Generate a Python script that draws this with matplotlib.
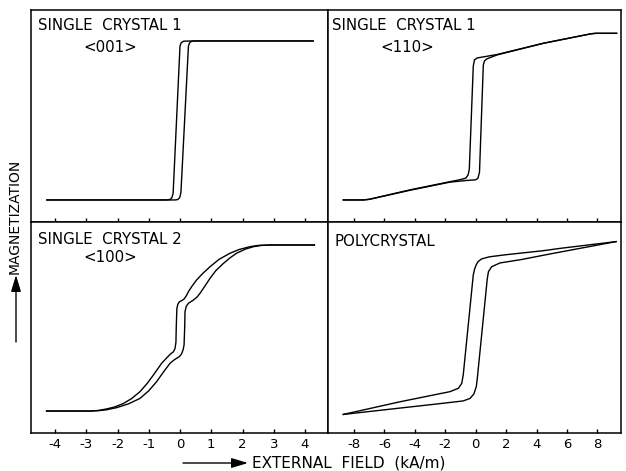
import matplotlib
matplotlib.use("Agg")
import matplotlib.pyplot as plt
from matplotlib.patches import FancyArrowPatch

plt.rcParams['font.family'] = ['DejaVu Sans']
plt.rcParams['axes.unicode_minus'] = False

# ---------------- data (field H, normalized magnetization M) ----------------
# Single crystal 1 <001>  (field in kA/m, scale -4..4)
sc1_001_desc_h = [4.26, 0.45, 0.12, 0.04, 0.0, -0.22, -0.26, -0.32, -0.45, -4.26]
sc1_001_desc_m = [0.854, 0.854, 0.853, 0.846, 0.83, 0.135, 0.115, 0.106, 0.104, 0.104]
sc1_001_asc_h = [-4.26, -0.15, -0.07, -0.01, 0.03, 0.27, 0.31, 0.38, 0.5, 4.26]
sc1_001_asc_m = [0.104, 0.104, 0.106, 0.115, 0.14, 0.83, 0.846, 0.853, 0.854, 0.854]

# Single crystal 1 <110>  (scale -8..8)
sc1_110_desc_h = [9.27, 7.9, 7.6, 4.45, 1.4, 0.6, 0.1, -0.08, -0.16, -0.42, -0.5,
                  -0.65, -1.0, -1.7, -4.3, -7.0, -7.4, -8.71]
sc1_110_desc_m = [0.89, 0.89, 0.888, 0.843, 0.79, 0.78, 0.774, 0.765, 0.735, 0.25,
                  0.222, 0.207, 0.2, 0.19, 0.152, 0.107, 0.104, 0.104]
sc1_110_asc_h = [-8.71, -7.4, -7.0, -4.3, -1.7, -0.6, 0.0, 0.15, 0.25, 0.5, 0.58,
                 0.75, 1.4, 4.45, 7.6, 7.9, 9.27]
sc1_110_asc_m = [0.104, 0.104, 0.107, 0.15, 0.188, 0.196, 0.199, 0.207, 0.235, 0.74,
                 0.76, 0.77, 0.788, 0.843, 0.888, 0.89, 0.89]

# Single crystal 2 <100>  (scale -4..4)
sc2_100_desc_h = [4.3, 2.9, 2.5, 2.24, 1.9, 1.6, 1.25, 0.96, 0.72, 0.53, 0.38, 0.27,
                  0.2, 0.13, 0.05, -0.02, -0.07, -0.1, -0.12, -0.13, -0.16, -0.21,
                  -0.3, -0.4, -0.59, -0.85, -1.05, -1.28, -1.55, -1.81, -2.1, -2.35,
                  -2.6, -2.88, -4.27]
sc2_100_desc_m = [0.891, 0.891, 0.889, 0.883, 0.87, 0.852, 0.823, 0.788, 0.755,
                  0.725, 0.695, 0.67, 0.65, 0.635, 0.627, 0.622, 0.61, 0.59, 0.5,
                  0.43, 0.4, 0.385, 0.375, 0.36, 0.33, 0.275, 0.235, 0.196, 0.163,
                  0.14, 0.123, 0.114, 0.107, 0.104, 0.104]
sc2_100_asc_h = [-4.27, -2.88, -2.6, -2.35, -2.03, -1.65, -1.28, -1.0, -0.75, -0.5,
                 -0.32, -0.2, -0.11, -0.02, 0.05, 0.1, 0.13, 0.15, 0.16, 0.2, 0.27,
                 0.43, 0.55, 0.64, 0.8, 0.96, 1.15, 1.39, 1.6, 1.81, 2.1, 2.35, 2.6,
                 2.88, 4.3]
sc2_100_asc_m = [0.104, 0.104, 0.106, 0.11, 0.12, 0.138, 0.164, 0.2, 0.243, 0.295,
                 0.33, 0.345, 0.354, 0.362, 0.375, 0.395, 0.417, 0.5, 0.575, 0.6,
                 0.615, 0.63, 0.645, 0.662, 0.697, 0.733, 0.77, 0.804, 0.83, 0.852,
                 0.872, 0.883, 0.889, 0.891, 0.891]

# Polycrystal  (scale -8..8)
poly_desc_h = [9.23, 5.55, 4.45, 2.0, 0.9, 0.39, 0.15, 0.02, -0.08, -0.16, -0.82,
               -0.92, -1.14, -1.69, -4.98, -8.71]
poly_desc_m = [0.907, 0.875, 0.864, 0.845, 0.835, 0.825, 0.812, 0.795, 0.775, 0.749,
               0.275, 0.235, 0.212, 0.196, 0.148, 0.088]
poly_asc_h = [-8.71, -5.0, -2.5, -0.82, -0.37, -0.12, 0.04, 0.1, 0.76, 0.84, 1.05,
              1.6, 3.0, 5.0, 7.0, 9.23]
poly_asc_m = [0.088, 0.118, 0.138, 0.152, 0.164, 0.185, 0.22, 0.255, 0.73, 0.765,
              0.788, 0.806, 0.822, 0.85, 0.877, 0.907]

left_ticks = [-4, -3, -2, -1, 0, 1, 2, 3, 4]
right_ticks = [-8, -6, -4, -2, 0, 2, 4, 6, 8]

titles = {
    "tl": ("SINGLE  CRYSTAL 1", "<001>"),
    "tr": ("SINGLE  CRYSTAL 1", "<110>"),
    "bl": ("SINGLE  CRYSTAL 2", "<100>"),
    "br": ("POLYCRYSTAL", None),
}

xlabel = "EXTERNAL  FIELD  (kA/m)"
ylabel = "MAGNETIZATION"

# ---------------- layout ----------------
W, H = 626, 471
fig = plt.figure(figsize=(W / 100, H / 100), dpi=100)


def px_axes(x0, y0, x1, y1):
    return fig.add_axes([x0 / W, 1 - y1 / H, (x1 - x0) / W, (y1 - y0) / H])


LX0, MX, RX1 = 31, 328, 621
TY0, MY, BY1 = 10, 222, 433

ax_tl = px_axes(LX0, TY0, MX, MY)
ax_tr = px_axes(MX, TY0, RX1, MY)
ax_bl = px_axes(LX0, MY, MX, BY1)
ax_br = px_axes(MX, MY, RX1, BY1)

lw = 1.0
for ax in (ax_tl, ax_tr, ax_bl, ax_br):
    for s in ax.spines.values():
        s.set_linewidth(1.1)
    ax.set_yticks([])
    ax.set_ylim(0, 1)
    ax.tick_params(axis='x', direction='in', length=3.2, width=1.0, pad=3.5,
                   labelsize=9.5, top=False)

ax_tl.plot(sc1_001_desc_h, sc1_001_desc_m, color='black', lw=lw)
ax_tl.plot(sc1_001_asc_h, sc1_001_asc_m, color='black', lw=lw)
ax_tr.plot(sc1_110_desc_h, sc1_110_desc_m, color='black', lw=lw)
ax_tr.plot(sc1_110_asc_h, sc1_110_asc_m, color='black', lw=lw)
ax_bl.plot(sc2_100_desc_h, sc2_100_desc_m, color='black', lw=lw)
ax_bl.plot(sc2_100_asc_h, sc2_100_asc_m, color='black', lw=lw)
ax_br.plot(poly_desc_h, poly_desc_m, color='black', lw=lw)
ax_br.plot(poly_asc_h, poly_asc_m, color='black', lw=lw)

for ax in (ax_tl, ax_bl):
    ax.set_xlim(-4.768, 4.736)
    ax.set_xticks(left_ticks)
for ax in (ax_tr, ax_br):
    ax.set_xlim(-9.717, 9.559)
    ax.set_xticks(right_ticks)

ax_tl.set_xticklabels([])
ax_tr.set_xticklabels([])
ax_bl.set_xticklabels([str(t) for t in left_ticks])
ax_br.set_xticklabels([str(t) for t in right_ticks])


def ftext(x, y, s, **kw):
    fig.text(x / W, 1 - y / H, s, **kw)


tsize = 10.8
# panel titles (pixel positions)
ftext(38, 26, titles["tl"][0], fontsize=tsize, va='center', ha='left')
ftext(110, 47, titles["tl"][1], fontsize=tsize, va='center', ha='center')
ftext(332, 25, titles["tr"][0], fontsize=tsize, va='center', ha='left')
ftext(407, 47, titles["tr"][1], fontsize=tsize, va='center', ha='center')
ftext(38, 240, titles["bl"][0], fontsize=tsize, va='center', ha='left')
ftext(110, 257, titles["bl"][1], fontsize=tsize, va='center', ha='center')
ftext(335, 241, titles["br"][0], fontsize=tsize, va='center', ha='left')

# axis labels with arrows
ftext(252, 463, xlabel, fontsize=11, va='center', ha='left')
ftext(15, 216, ylabel, fontsize=10, va='center', ha='center', rotation=90)

arrow_kw = dict(arrowstyle='-|>,head_length=1.0,head_width=0.3', color='black',
                lw=1.0, shrinkA=0, shrinkB=0, mutation_scale=10)
fig.add_artist(FancyArrowPatch(
    (183 / W, 1 - 463 / H), (248 / W, 1 - 463 / H),
    transform=fig.transFigure, **arrow_kw))
fig.add_artist(FancyArrowPatch(
    (16 / W, 1 - 342 / H), (16 / W, 1 - 275 / H),
    transform=fig.transFigure, **arrow_kw))

fig.savefig("out.png", dpi=100)
